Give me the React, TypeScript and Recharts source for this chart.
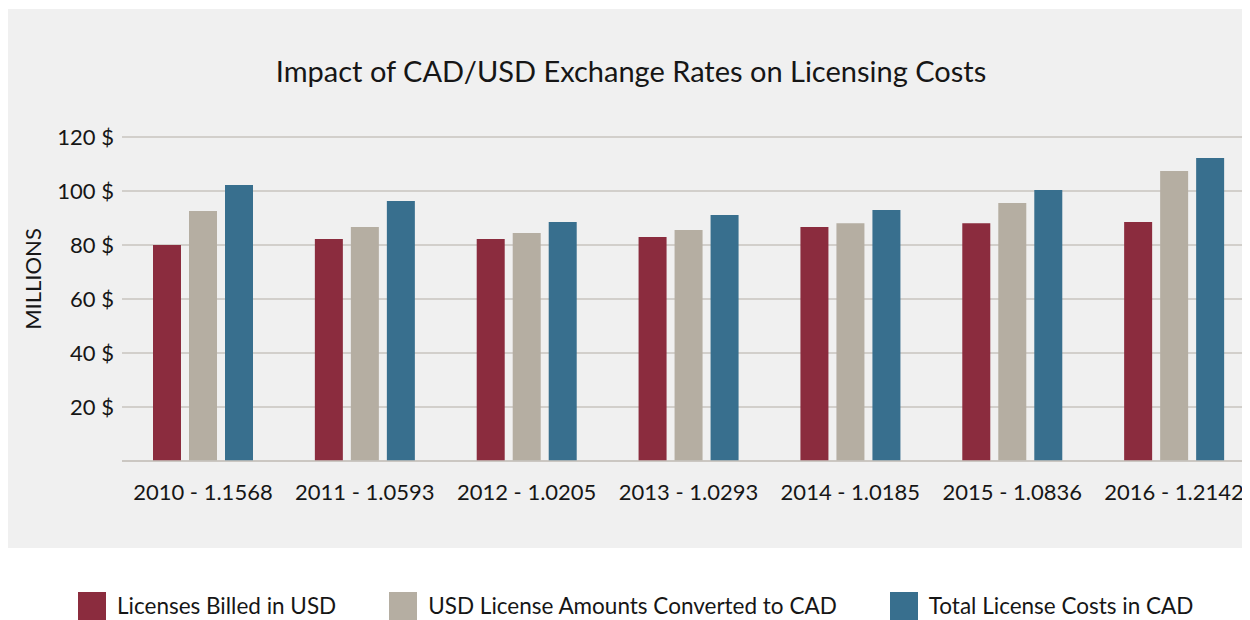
import React from "react";
import { BarChart, Bar, XAxis, YAxis, CartesianGrid, Legend } from "recharts";

const years = [
  "2010 - 1.1568",
  "2011 - 1.0593",
  "2012 - 1.0205",
  "2013 - 1.0293",
  "2014 - 1.0185",
  "2015 - 1.0836",
  "2016 - 1.2142",
];
const seriesNames = [
  "Licenses Billed in USD",
  "USD License Amounts Converted to CAD",
  "Total License Costs in CAD",
];
const billedUsd = [80, 82.2, 82.2, 83, 86.7, 88.1, 88.5];
const convertedCad = [92.6, 86.7, 84.4, 85.6, 88.1, 95.6, 107.4];
const totalCad = [102.2, 96.3, 88.5, 91.1, 93, 100.4, 112.2];
const yTicks = [0, 20, 40, 60, 80, 100, 120];

const data = years.map((year, i) => ({
  year,
  billed: billedUsd[i],
  converted: convertedCad[i],
  total: totalCad[i],
}));

const FONT = "Lato, 'Open Sans', sans-serif";
const INK = "#161616";
const GRID = "#c9c5bf";

const LegendRow = (props: any) => {
  const items = [...(props.payload || [])].sort(
    (a: any, b: any) => seriesNames.indexOf(a.value) - seriesNames.indexOf(b.value)
  );
  return (
    <div
      style={{
        display: "flex",
        alignItems: "center",
        fontFamily: FONT,
        fontSize: 22.5,
        lineHeight: "28px",
        color: INK,
        whiteSpace: "nowrap",
        width: 1170,
      }}
    >
      {items.map((it: any) => (
        <div key={it.value} style={{ display: "flex", alignItems: "center", marginRight: 53, flexShrink: 0 }}>
          <span
            style={{ width: 28, height: 28, background: it.color, display: "inline-block", marginRight: 11, flexShrink: 0 }}
          />
          <span>{it.value}</span>
        </div>
      ))}
    </div>
  );
};

export default function App() {
  return (
    <div style={{ position: "relative", width: 1242, height: 612, overflow: "hidden", fontFamily: FONT }}>
      <div style={{ position: "absolute", left: 0, top: 1, width: 1238, height: 539, background: "#f0f0f0" }} />
      <div
        style={{
          position: "absolute",
          left: 0,
          width: 1246,
          top: 46,
          textAlign: "center",
          fontSize: 29,
          color: INK,
          lineHeight: "34px",
        }}
      >
        Impact of CAD/USD Exchange Rates on Licensing Costs
      </div>
      <div style={{ position: "absolute", left: 0, top: 0 }}>
        <BarChart
          width={1250}
          height={612}
          data={data}
          margin={{ top: 129, right: 3, left: 0, bottom: 119 }}
          barSize={28}
          barGap={8}
        >
          <CartesianGrid vertical={false} stroke={GRID} strokeWidth={1.5} />
          <XAxis
            dataKey="year"
            height={40}
            tickSize={0}
            tickMargin={23}
            axisLine={{ stroke: GRID, strokeWidth: 1.5 }}
            tick={{ fill: INK, fontSize: 22, fontFamily: FONT }}
            interval={0}
          />
          <YAxis
            width={114}
            domain={[0, 120]}
            ticks={yTicks}
            tickSize={0}
            tickMargin={8}
            axisLine={false}
            tick={{ fill: INK, fontSize: 22, fontFamily: FONT }}
            tickFormatter={(v: number) => (v === 0 ? "" : `${v} $`)}
            label={{
              content: () => (
                <text
                  x={24}
                  y={271}
                  transform="rotate(-90, 24, 271)"
                  textAnchor="middle"
                  dominantBaseline="central"
                  fill={INK}
                  fontSize={22}
                  fontFamily={FONT}
                >
                  MILLIONS
                </text>
              ),
            }}
          />
          <Legend
            layout="horizontal"
            verticalAlign="middle"
            align="center"
            content={<LegendRow />}
            wrapperStyle={{ position: "absolute", top: 584, left: 70, width: 1170 }}
          />
          <Bar dataKey="billed" name={seriesNames[0]} fill="#8b2c3e" isAnimationActive={false} />
          <Bar dataKey="converted" name={seriesNames[1]} fill="#b5aea2" isAnimationActive={false} />
          <Bar dataKey="total" name={seriesNames[2]} fill="#386f8e" isAnimationActive={false} />
        </BarChart>
      </div>
    </div>
  );
}
